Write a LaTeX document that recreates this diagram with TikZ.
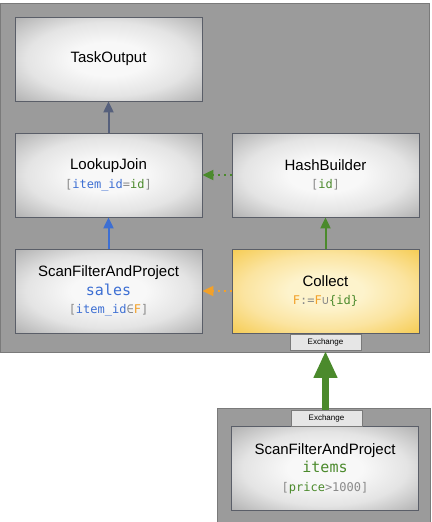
\documentclass[tikz,border=0pt]{standalone}
\usepackage{fontspec}
\setmainfont{Liberation Sans}
\newfontfamily\monofont{DejaVu Sans Mono}
\usetikzlibrary{arrows.meta}
\definecolor{panelgray}{HTML}{9B9B9B}
\definecolor{paneledge}{HTML}{7A7A7A}
\definecolor{boxedge}{HTML}{5A5E68}
\definecolor{boxin}{HTML}{F8F8F8}
\definecolor{boxmid}{HTML}{E4E4E4}
\definecolor{boxgray}{HTML}{ABABAB}
\definecolor{tabfill}{HTML}{E6E6E6}
\definecolor{collin}{HTML}{FDF3CC}
\definecolor{colmid}{HTML}{FBE4A0}
\definecolor{colout}{HTML}{F5C94A}
\definecolor{cblue}{HTML}{3D6FD3}
\definecolor{cgreen}{HTML}{4B8A2C}
\definecolor{corange}{HTML}{F2A12A}
\definecolor{cgray}{HTML}{8A8A8A}
\definecolor{cslate}{HTML}{56607C}
\pgfdeclareradialshading{opshade}{\pgfpoint{0bp}{0bp}}{color(0bp)=(boxin); color(10bp)=(boxin); color(22bp)=(boxmid); color(37bp)=(boxgray); color(50bp)=(boxgray)}
\pgfdeclareradialshading{collectshade}{\pgfpoint{0bp}{0bp}}{color(0bp)=(collin); color(10bp)=(collin); color(22bp)=(colmid); color(37bp)=(colout); color(50bp)=(colout)}
\newcommand{\opcode}[1]{{\monofont\fontsize{12}{18.5}\selectfont #1}}
\newcommand{\optable}[1]{{\monofont\fontsize{15}{18.5}\selectfont #1}}
\tikzset{
  opbox/.style={draw=boxedge,line width=0.8pt,minimum width=187pt,minimum height=84pt,
    shading=opshade,align=center,inner sep=0pt,font=\fontsize{15}{18.5}\selectfont},
  tab/.style={draw=paneledge,fill=tabfill,line width=0.6pt,minimum width=71pt,
    minimum height=16pt,inner sep=0pt,font=\fontsize{8}{9}\selectfont},
  flow/.style={line width=2pt,-{Triangle[width=10pt,length=11pt]}},
  dots/.style={line width=2pt,dash pattern=on 2pt off 4pt,-{Triangle[width=10pt,length=11pt]}}
}
\begin{document}
\begin{tikzpicture}[x=1pt,y=-1pt]
   \useasboundingbox (0,0) rectangle (431,522);
   % 枠
   \filldraw[fill=panelgray,draw=paneledge,line width=0.8pt] (0,3) rectangle (429,352);
   \filldraw[fill=panelgray,draw=paneledge,line width=0.8pt] (217,408) rectangle (430,524);

   % オペレータ
   \node[opbox] (task) at (108.5,59) {TaskOutput};
   \node[opbox] (join) at (108.5,175) {LookupJoin\\
     \opcode{\textcolor{cgray}{[}\textcolor{cblue}{item\_id}\textcolor{cgray}{=}\textcolor{cgreen}{id}\textcolor{cgray}{]}}};
   \node[opbox] (hash) at (325.5,175) {HashBuilder\\
     \opcode{\textcolor{cgray}{[}\textcolor{cgreen}{id}\textcolor{cgray}{]}}};
   \node[opbox] (sales) at (108.5,291) {ScanFilterAndProject\\
     \optable{\textcolor{cblue}{sales}}\\
     \opcode{\textcolor{cgray}{[}\textcolor{cblue}{item\_id}\textcolor{cgray}{∈}\textcolor{corange}{F}\textcolor{cgray}{]}}};
   \node[opbox,shading=collectshade] (collect) at (325.5,291) {Collect\\
     \opcode{\textcolor{corange}{F}\textcolor{cgray}{:=}\textcolor{corange}{F}\textcolor{cgray}{∪}\textcolor{cgreen}{\{id\}}}};
   \node[opbox] (items) at (325,468.5) {ScanFilterAndProject\\
     \optable{\textcolor{cgreen}{items}}\\
     \opcode{\textcolor{cgray}{[}\textcolor{cgreen}{price}\textcolor{cgray}{>1000]}}};

   % Exchange
   \node[tab] (exup) at (325.5,342.5) {Exchange};
   \node[tab] (exdown) at (326.5,418.5) {Exchange};

   % 矢印
   \draw[flow,cslate] (join) -- (task);
   \draw[flow,cblue] (sales) -- (join);
   \draw[flow,cgreen] (collect) -- (hash);
   \draw[dots,cgreen] (hash) -- (join);
   \draw[dots,corange] (collect) -- (sales);
   \draw[cgreen,line width=7pt,-{Triangle[width=22pt,length=27pt]}] (exdown.north -| exup) -- (exup.south);
\end{tikzpicture}
\end{document}
